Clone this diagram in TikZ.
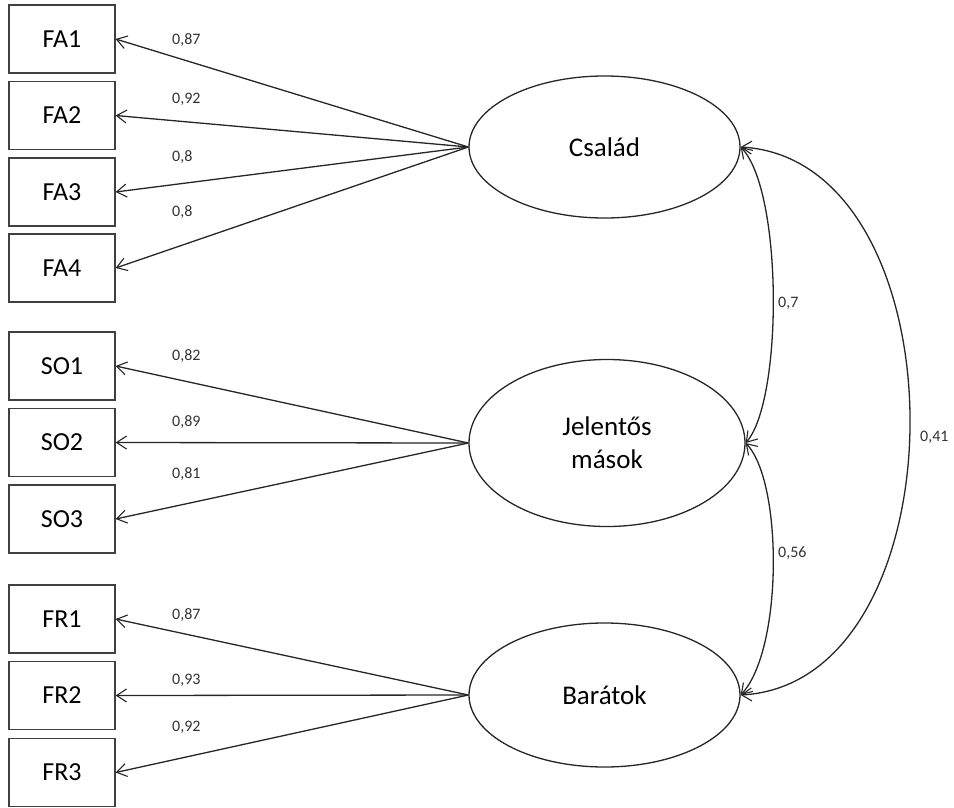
\documentclass[tikz,border=0pt]{standalone}
\usepackage{fontspec}
\setmainfont{Carlito}
\usetikzlibrary{arrows.meta,shapes.geometric}
\begin{document}
\begin{tikzpicture}[x=1pt,y=-1pt,
  ind/.style={draw=black!75,line width=1.2pt,minimum width=106pt,minimum height=68pt,inner sep=0pt,
    font=\fontsize{26}{30}\selectfont},
  lat/.style={draw=black!85,ellipse,line width=1.3pt,inner sep=0pt,align=center,
    font=\fontsize{27}{33}\selectfont},
  load/.style={draw=black!85,line width=1.3pt,-{Straight Barb[length=10pt,width=13pt,line width=1.1pt]}},
  cov/.style={draw=black!85,line width=1.3pt,{Straight Barb[length=10pt,width=13pt,line width=1.1pt]}-{Straight Barb[length=10pt,width=13pt,line width=1.1pt]}},
  coef/.style={anchor=west,inner sep=0pt,text=black!80,font=\fontsize{16}{18}\selectfont}]
\useasboundingbox (0,0) rectangle (954,807);
% indicator boxes
\node[ind] (FA1) at (62,39) {FA1};
\node[ind] (FA2) at (62,115.5) {FA2};
\node[ind] (FA3) at (62,192) {FA3};
\node[ind] (FA4) at (62,268) {FA4};
\node[ind] (SO1) at (62,366) {SO1};
\node[ind] (SO2) at (62,442.5) {SO2};
\node[ind] (SO3) at (62,519) {SO3};
\node[ind] (FR1) at (62,619) {FR1};
\node[ind] (FR2) at (62,695.5) {FR2};
\node[ind] (FR3) at (62,772.5) {FR3};
% latent variables
\node[lat,minimum width=271pt,minimum height=142pt] (C) at (604.5,147) {Család};
\node[lat,minimum width=276pt,minimum height=167pt] (J) at (607,443) {Jelentős\\mások};
\node[lat,minimum width=271pt,minimum height=144pt] (B) at (604.5,695) {Barátok};
% loadings
\foreach \t in {FA1,FA2,FA3,FA4} \draw[load] (C.west) -- (\t.east);
\foreach \t in {SO1,SO2,SO3} \draw[load] (J.west) -- (\t.east);
\foreach \t in {FR1,FR2,FR3} \draw[load] (B.west) -- (\t.east);
% covariances
\draw[cov] (C.east) .. controls (783,191) and (783,400) .. (J.east);
\draw[cov] (J.east) .. controls (783,482) and (783,650) .. (B.east);
\draw[cov] (C.east) .. controls (966,160) and (966,683) .. (B.east);
% coefficient labels
\node[coef] (l1) at (172,40) {0,87};
\node[coef] (l2) at (172,99) {0,92};
\node[coef] (l3) at (172,157) {0,8};
\node[coef] (l4) at (172,212) {0,8};
\node[coef] (l5) at (172,356) {0,82};
\node[coef] (l6) at (172,422) {0,89};
\node[coef] (l7) at (172,474) {0,81};
\node[coef] (l8) at (172,615) {0,87};
\node[coef] (l9) at (172,680) {0,93};
\node[coef] (l10) at (172,727) {0,92};
\node[coef] (l11) at (778,303) {0,7};
\node[coef] (l12) at (778,553) {0,56};
\node[coef] (l13) at (920,437) {0,41};
\end{tikzpicture}
\end{document}
